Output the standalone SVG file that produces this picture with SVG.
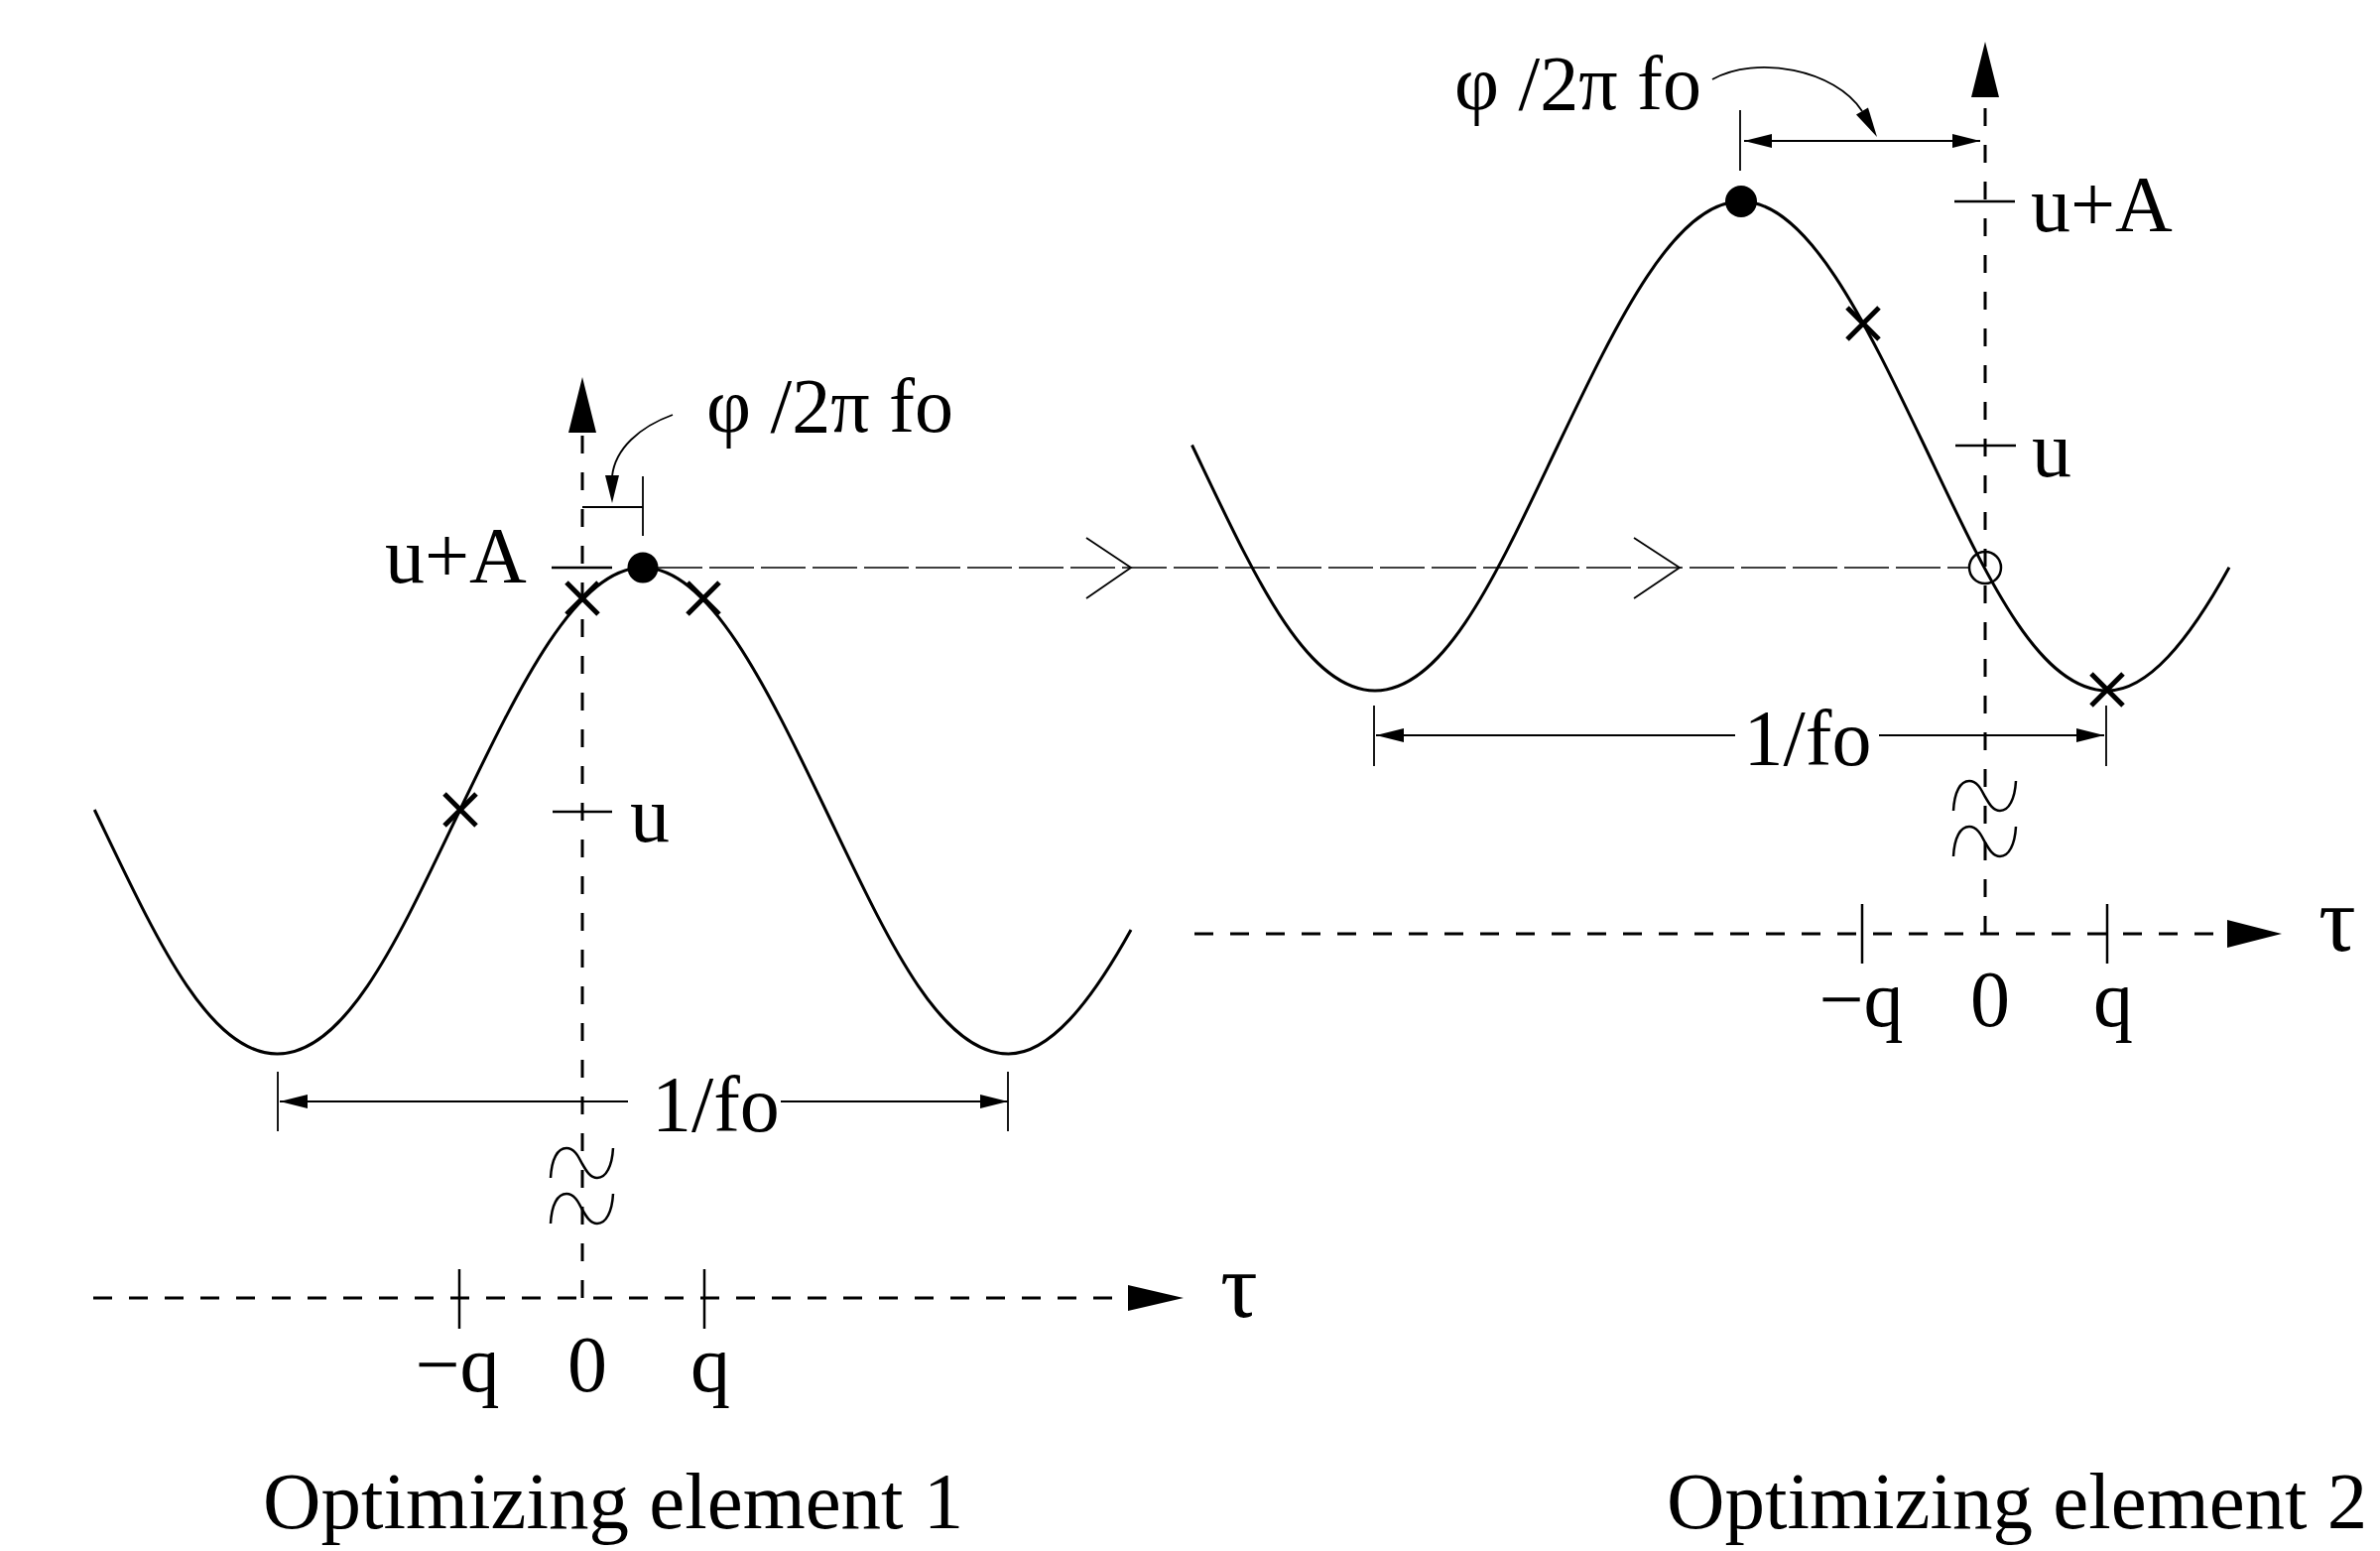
<svg xmlns="http://www.w3.org/2000/svg" width="2399" height="1563" viewBox="0 0 2399 1563">
<style>
text{font-family:"Liberation Serif","Times New Roman",serif;font-size:80px;fill:#000}
.sm{font-size:78px}
.tau{font-size:94px}
.cap{font-size:81px}
.curve{fill:none;stroke:#000;stroke-width:3;stroke-linejoin:round}
.vax{fill:none;stroke:#000;stroke-width:3;stroke-dasharray:18 19}
.hax{fill:none;stroke:#000;stroke-width:3;stroke-dasharray:19 17}
.thin{fill:none;stroke:#000;stroke-width:1.8}
.tick{fill:none;stroke:#000;stroke-width:2.5}
.link{fill:none;stroke:#000;stroke-width:1.6;stroke-dasharray:45 7}
.xm{fill:none;stroke:#000;stroke-width:5}
.head{fill:#000;stroke:none}
.dim{fill:none;stroke:#000;stroke-width:1.8;marker-start:url(#ah);marker-end:url(#ah)}
.dimE{fill:none;stroke:#000;stroke-width:1.8;marker-end:url(#ah)}
</style>
<defs>
<marker id="ah" markerUnits="userSpaceOnUse" markerWidth="30" markerHeight="16" refX="28" refY="7" orient="auto-start-reverse" viewBox="0 0 30 16">
<path d="M0,0 L28,7 L0,14 z" fill="#000"/>
</marker>
<g id="xmark"><path d="M-16,-16 L16,16 M16,-16 L-16,16" class="xm"/></g>
<path id="tilde" d="M-32,15 C-31,-4 -25,-15 -16,-15 C-7,-15 -3,-4 0,1 C4,8 8,15 15,15 C24,15 30,3 31,-15" fill="none" stroke="#000" stroke-width="2.5"/>
</defs>
<rect width="2399" height="1563" fill="#fff"/>

<g id="connectors">
<line x1="663" y1="572" x2="1985" y2="572" class="link"/>
<path d="M1095,542 L1140,572 L1095,603 M1647,542 L1693,572 L1647,603" class="thin"/>
</g>

<g id="plot1">
<line x1="587" y1="1308" x2="587" y2="436" class="vax"/>
<polygon points="573,436 587,380 601,436" class="head"/>
<line x1="94" y1="1308" x2="1137" y2="1308" class="hax"/>
<polygon points="1137,1295 1193,1308 1137,1321" class="head"/>
<line x1="463" y1="1279" x2="463" y2="1339" class="tick"/>
<line x1="710" y1="1279" x2="710" y2="1339" class="tick"/>
<line x1="556" y1="572" x2="617" y2="572" class="tick"/>
<line x1="557" y1="818" x2="617" y2="818" class="tick"/>
<use href="#tilde" x="587" y="1172"/>
<use href="#tilde" x="587" y="1218"/>
<path class="curve" d="M95.25,816 C155.35,941 209,1062 279.5,1062 C350,1062 403.65,941 463.75,816 C523.85,691 581.35,572 648,572 C714.65,572 772.15,691 832.25,816 C892.35,941 946,1062 1016.5,1062 C1057.7,1062 1098.8,1011.4 1140,937"/>
<circle cx="648" cy="572" r="15.5" fill="#000"/>
<use href="#xmark" x="464" y="816"/>
<use href="#xmark" x="587" y="603"/>
<use href="#xmark" x="709" y="603"/>
<path d="M587,511 L648,511 M648,480 L648,540" class="thin"/>
<path d="M678,418 C645,430 620,452 617,480" class="thin"/>
<polygon points="610,479 617,507 624,479" class="head"/>
<path d="M280,1080 L280,1140 M1016,1080 L1016,1140" class="thin"/>
<line x1="633" y1="1110" x2="282" y2="1110" class="dimE"/>
<line x1="787" y1="1110" x2="1016" y2="1110" class="dimE"/>
<text x="388" y="587">u+A</text>
<text x="635" y="848">u</text>
<text x="712" y="435" class="sm">φ /2π fo</text>
<text x="657" y="1140">1/fo</text>
<text x="461" y="1402" text-anchor="middle">−q</text>
<text x="592" y="1402" text-anchor="middle">0</text>
<text x="716" y="1402" text-anchor="middle">q</text>
<text x="1230" y="1327" class="tau">τ</text>
<text x="265" y="1540" class="cap">Optimizing element 1</text>
</g>

<g id="plot2">
<line x1="2001" y1="941" x2="2001" y2="98" class="vax"/>
<polygon points="1987,98 2001,42 2015,98" class="head"/>
<line x1="1204" y1="941" x2="2245" y2="941" class="hax"/>
<polygon points="2245,927 2300,941 2245,955" class="head"/>
<line x1="1877" y1="911" x2="1877" y2="971" class="tick"/>
<line x1="2124" y1="911" x2="2124" y2="971" class="tick"/>
<line x1="1970" y1="203" x2="2031" y2="203" class="tick"/>
<line x1="1971" y1="449" x2="2032" y2="449" class="tick"/>
<use href="#tilde" x="2001" y="802"/>
<use href="#tilde" x="2001" y="848"/>
<path class="curve" d="M1201.5,448.5 C1261.67,574.3 1315,696 1386,696 C1457,696 1510.33,574.3 1570.5,448.5 C1630.67,322.7 1688.23,203 1755,203 C1821.77,203 1879.33,322.7 1939.5,448.5 C1999.67,574.3 2053,696 2124,696 C2165,696 2206,646 2247,571.75"/>
<circle cx="1755" cy="203" r="16" fill="#000"/>
<circle cx="2001" cy="572" r="16" fill="none" stroke="#000" stroke-width="2.5"/>
<use href="#xmark" x="1878" y="326"/>
<use href="#xmark" x="2124" y="695"/>
<line x1="1754" y1="111" x2="1754" y2="172" class="thin"/>
<line x1="1758" y1="142" x2="1996" y2="142" class="dim"/>
<path d="M1726,80 C1770,55 1850,70 1877,112" class="thin"/>
<polygon points="1883,108.5 1892,138 1871,115.5" class="head"/>
<path d="M1385,711 L1385,772 M2123,711 L2123,772" class="thin"/>
<line x1="1749" y1="741" x2="1387" y2="741" class="dimE"/>
<line x1="1894" y1="741" x2="2121" y2="741" class="dimE"/>
<text x="2047" y="233">u+A</text>
<text x="2048" y="480">u</text>
<text x="1466" y="110" class="sm">φ /2π fo</text>
<text x="1822" y="771" text-anchor="middle">1/fo</text>
<text x="1876" y="1034" text-anchor="middle">−q</text>
<text x="2006" y="1034" text-anchor="middle">0</text>
<text x="2130" y="1034" text-anchor="middle">q</text>
<text x="2337" y="958" class="tau">τ</text>
<text x="1680" y="1540" class="cap">Optimizing element 2</text>
</g>
</svg>
